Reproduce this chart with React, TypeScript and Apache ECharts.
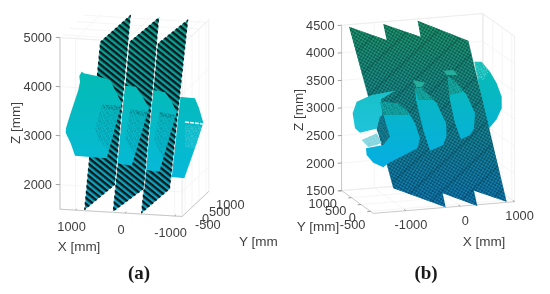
import React, { useEffect, useRef } from "react";
import * as echarts from "echarts";

// Tick labels
const xTicks = [-1000, 0, 1000];
const yTicks = [-500, 0, 500, 1000];
const zTicksA = [2000, 3000, 4000, 5000];
const zTicksB = [1500, 2000, 2500, 3000, 3500, 4000, 4500];

// Panel (a): outlines, [horizontal mm, Z mm] in the view plane
const planeA1 = [[442, 4918], [-190, 5475], [136, 1994], [768, 1470]];
const planeA2 = [[-156, 4918], [-768, 5428], [-456, 1912], [184, 1436]];
const planeA3 = [[-734, 4884], [-1360, 5380], [-986, 1912], [-394, 1402]];
const cloudA1 = [[864, 4217], [816, 4306], [760, 4270], [700, 4258], [510, 4217], [238, 4136], [136, 3932], [0, 3660], [306, 2538], [714, 2572], [952, 2592], [1040, 2844], [1142, 3061], [1136, 3150], [1054, 3422], [952, 3728], [884, 3932], [850, 4102]];
const cloudA2 = [[-68, 4020], [-292, 4000], [-428, 3796], [-558, 3558], [-204, 2388], [88, 2436]];
const cloudA3 = [[-646, 3932], [-884, 3884], [-1020, 3694], [-1122, 3476], [-768, 2266], [-476, 2300]];
const cloudA4 = [[-1156, 3796], [-1496, 3762], [-1578, 3558], [-1666, 3265], [-1530, 2844], [-1278, 2130], [-986, 2164], [-918, 3048]];
const speckA = [
  [[408, 3626], [20, 3605], [272, 2708], [476, 2912], [544, 3150]],
  [[-170, 3524], [-544, 3524], [-272, 2572], [-68, 2912]],
  [[-768, 3469], [-1102, 3422], [-850, 2504], [-660, 2912]],
];
const bandA = [
  [[408, 3639], [20, 3605], [48, 3510], [374, 3558]],
  [[-184, 3544], [-544, 3469], [-524, 3388], [-170, 3469]],
  [[-768, 3490], [-1102, 3422], [-1081, 3333], [-755, 3401]],
];
const glintA = [[-1292, 3279], [-1666, 3238]];
const paleA = [[-1292, 3218], [-1632, 3197], [-1496, 2742], [-1292, 2776]];

// Panel (b)
const planeB = [[-2093, 4482], [-1410, 4240], [-1470, 4531], [-793, 4301], [-847, 4591], [73, 4228], [768, 1306], [175, 1506], [236, 1227], [-393, 1457], [-339, 1203], [-1289, 1548]];
const capLeftB = [[-2027, 2909], [-1954, 3121], [-1682, 3242], [-1258, 3321], [-1512, 3163], [-1488, 2879], [-1561, 2637], [-1894, 2558], [-1984, 2637]];
const stripLeftB = [[-1863, 2425], [-1591, 2546], [-1500, 2365], [-1742, 2292]];
const chunkB = [[-1531, 3121], [-1228, 3091], [-1047, 2970], [-895, 2728], [-805, 2456], [-853, 2274], [-1379, 2002], [-1470, 1929], [-1652, 2014], [-1773, 2153], [-1785, 2274], [-1470, 2335], [-1361, 2486], [-1470, 2879]];
const patchB = [[-1531, 2849], [-1470, 2879], [-1349, 2486], [-1470, 2365], [-1591, 2607]];
const chunkTopB = [[-1531, 3121], [-1228, 3091], [-1047, 2970], [-1016, 2879], [-1470, 2879]];
const midB = [[-895, 3363], [-774, 3363], [-502, 3091], [-333, 2728], [-321, 2516], [-381, 2335], [-623, 2232], [-744, 2607], [-877, 3151]];
const midCapB = [[-938, 3514], [-714, 3466], [-774, 3381], [-865, 3381]];
const midTopB = [[-895, 3363], [-774, 3363], [-545, 3151], [-835, 3151]];
const thirdB = [[-303, 3587], [-139, 3454], [42, 3242], [194, 2909], [175, 2637], [103, 2516], [-61, 2437], [-169, 2728], [-260, 3151]];
const thirdCapB = [[-381, 3684], [-200, 3696], [-121, 3605], [-321, 3605]];
const thirdTopB = [[-303, 3587], [-139, 3454], [-18, 3302], [-260, 3242]];
const endB = [[181, 3847], [315, 3847], [466, 3666], [587, 3454], [678, 3212], [678, 3000], [587, 2800], [436, 2619], [315, 3151]];
const endTopB = [[181, 3847], [315, 3847], [466, 3666], [345, 3514], [224, 3545]];

type P3 = [number, number, number];

const makeTile = (w: number, h: number, draw: (c: CanvasRenderingContext2D) => void) => {
  const cv = document.createElement("canvas");
  cv.width = w;
  cv.height = h;
  draw(cv.getContext("2d")!);
  return cv;
};

const frame = (api: any, f: any) => {
  const out: any[] = [];
  const seg = (a: P3, b: P3, stroke: string, lineWidth = 0.8) => {
    const p = api.coord(f.proj(a));
    const q = api.coord(f.proj(b));
    out.push({ type: "line", shape: { x1: p[0], y1: p[1], x2: q[0], y2: q[1] }, style: { stroke, lineWidth } });
  };
  const [x0, x1] = f.xr;
  const [y0, y1] = f.yr;
  const [z0, z1] = f.zr;
  const g = "#f2f2f2";
  f.zTicks.forEach((z: number) => {
    seg([f.wx, y0, z], [f.wx, y1, z], g);
    seg([x0, f.wy, z], [x1, f.wy, z], g);
  });
  yTicks.forEach((y) => {
    seg([f.wx, y, z0], [f.wx, y, z1], g);
    seg([x0, y, f.wz], [x1, y, f.wz], g);
  });
  xTicks.forEach((x) => {
    seg([x, f.wy, z0], [x, f.wy, z1], g);
    seg([x, y0, f.wz], [x, y1, f.wz], g);
  });
  const e = "#ebebeb";
  seg([f.wx, y0, z0], [f.wx, y0, z1], e);
  seg([f.wx, y1, z0], [f.wx, y1, z1], e);
  seg([x0, f.wy, z0], [x0, f.wy, z1], e);
  seg([x1, f.wy, z0], [x1, f.wy, z1], e);
  seg([f.wx, y0, f.wz], [f.wx, y1, f.wz], e);
  seg([x0, f.wy, f.wz], [x1, f.wy, f.wz], e);
  seg([f.wx, y0, f.wz === z0 ? z1 : z0], [f.wx, y1, f.wz === z0 ? z1 : z0], e);
  seg([x0, f.wy, f.wz === z0 ? z1 : z0], [x1, f.wy, f.wz === z0 ? z1 : z0], e);
  const ax = "#bcbcbc";
  seg([f.zAxis[0], f.zAxis[1], z0], [f.zAxis[0], f.zAxis[1], f.zTop], ax);
  seg([x0, f.xAxisY, z0], [x1, f.xAxisY, z0], ax);
  seg([f.yAxisX, y0, z0], [f.yAxisX, y1, z0], ax);
  const t = "#8a8a8a";
  f.zTicks.forEach((z: number) => seg([f.zAxis[0], f.zAxis[1], z], [f.zAxis[0] + f.zTick, f.zAxis[1], z], t));
  xTicks.forEach((x) => seg([x, f.xAxisY, z0], [x, f.xAxisY + 90, z0], t));
  yTicks.forEach((y) => seg([f.yAxisX, y, z0], [f.yAxisX + f.yTick, y, z0], t));
  const label = (p: P3, text: string, d: number[], align: string) => {
    const c = api.coord(f.proj(p));
    out.push({
      type: "text",
      x: c[0] + d[0],
      y: c[1] + d[1],
      z2: 50,
      style: { text, fill: "#3f3f3f", font: '12.8px "Liberation Sans"', textAlign: align, textVerticalAlign: "middle" },
    });
  };
  f.zTicks.forEach((z: number) => label([f.zAxis[0], f.zAxis[1], z], String(z), f.zOff, "right"));
  xTicks.forEach((x) => label([x, f.xAxisY, z0], String(x), f.xOff, "center"));
  yTicks.forEach((y) => label([f.yAxisX, y, z0], String(y), f.yOff, f.yAlign));
  return out;
};

export default function App() {
  const ref = useRef<HTMLDivElement>(null);
  useEffect(() => {
    const chart = echarts.init(ref.current!, undefined, { renderer: "svg" });

    const stripes = {
      image: makeTile(20, 20, (c) => {
        c.fillStyle = "#07191c";
        c.fillRect(0, 0, 20, 10);
      }),
      repeat: "repeat",
      rotation: 0.68,
      scaleX: 0.235,
      scaleY: 0.235,
    };
    const hatch = {
      image: makeTile(8, 8, (c) => {
        c.strokeStyle = "rgba(5,20,25,0.62)";
        c.lineWidth = 1.5;
        c.beginPath();
        c.moveTo(0, 0); c.lineTo(8, 8);
        c.moveTo(8, 0); c.lineTo(0, 8);
        c.stroke();
      }),
      repeat: "repeat",
      rotation: -0.25,
      scaleX: 0.5,
      scaleY: 0.5,
    };
    const broad = {
      image: makeTile(20, 20, (c) => {
        c.fillStyle = "rgba(0,20,25,0.14)";
        c.fillRect(0, 0, 20, 2);
      }),
      repeat: "repeat",
      rotation: -0.75,
      scaleX: 1,
      scaleY: 1,
    };
    const dots = (color: string) => ({
      image: makeTile(14, 14, (c) => {
        c.fillStyle = color;
        [[1, 1], [6, 0], [11, 2], [3, 5], [8, 4], [13, 6], [0, 8], [5, 9], [10, 8], [2, 12], [7, 12], [12, 11]].forEach(([x, y]) => c.fillRect(x, y, 2, 2));
      }),
      repeat: "repeat",
      scaleX: 0.55,
      scaleY: 0.55,
    });
    const darkDots = dots("rgba(5,40,55,0.6)");
    const paleDots = dots("rgba(255,255,255,0.6)");
    const tealDots = dots("rgba(0,80,80,0.7)");

    const shade = (api: any, zTop: number, zBottom: number, top: string, bottom: string) => {
      const a = api.coord([0, zTop]);
      const b = api.coord([0, zBottom]);
      return { type: "linear", global: true, x: 0, y: a[1], x2: 0, y2: b[1], colorStops: [{ offset: 0, color: top }, { offset: 1, color: bottom }] };
    };
    const poly = (api: any, pts: number[][], fill: any, extra: any = {}) => ({
      type: "polygon",
      shape: { points: pts.map((p) => api.coord(p)) },
      style: { fill, ...extra },
    });

    const projA = ([X, Y, Z]: P3) => [-270 + X * 1.01 - Y * 0.286, 110 + Z + X * 0.06 + Y * 0.27];
    const projB = ([X, Y, Z]: P3) => [-298 + X * 0.986 - Y * 0.345, -115 + Z + X * 0.0815 + Y * 0.248];

    const frameA = {
      proj: projA, xr: [-1154, 1315], yr: [-700, 1200], zr: [1500, 5000], zTop: 5000, zTicks: zTicksA,
      wx: -1154, wy: -700, wz: 5000, zAxis: [1315, -700], xAxisY: -700, yAxisX: -1154, zTick: 85, yTick: 0,
      zOff: [-8, 0], xOff: [-4, 16], yOff: [10, 11], yAlign: "left",
    };
    const frameB = {
      proj: projB, xr: [-1600, 1000], yr: [-650, 1020], zr: [1500, 4500], zTop: 4500, zTicks: zTicksB,
      wx: 1000, wy: 1020, wz: 1500, zAxis: [-1600, 1020], xAxisY: -650, yAxisX: -1600, zTick: -70, yTick: -60,
      zOff: [-7, 0], xOff: [5, 14], yOff: [-5, 13], yAlign: "right",
    };

    const renderA = (_: any, api: any) => {
      const cyan = shade(api, 4300, 2100, "#03bbb4", "#07b9da");
      const base = shade(api, 5400, 1500, "#0d9e8b", "#12a2c2");
      const plane = (pts: number[][]) => [
        poly(api, pts, base, { stroke: "#fff", lineWidth: 0.9 }),
        poly(api, pts, stripes),
      ];
      const section = (pts: number[][], i: number) => [
        poly(api, pts, cyan),
        poly(api, speckA[i], darkDots, { opacity: 0.55 }),
        poly(api, bandA[i], darkDots),
      ];
      const g = api.coord(glintA[0]);
      const h = api.coord(glintA[1]);
      return {
        type: "group",
        children: [
          ...frame(api, frameA).filter((e) => e.type === "line"),
          poly(api, cloudA4, cyan),
          poly(api, paleA, paleDots, { opacity: 0.55 }),
          { type: "line", shape: { x1: g[0], y1: g[1], x2: h[0], y2: h[1] }, style: { stroke: "#eafcfc", lineWidth: 1.6, lineDash: [4, 1] } },
          ...plane(planeA3),
          ...section(cloudA3, 2),
          ...plane(planeA2),
          ...section(cloudA2, 1),
          ...plane(planeA1),
          ...section(cloudA1, 0),
          ...frame(api, frameA).filter((e) => e.type === "text"),
        ],
      };
    };

    const renderB = (_: any, api: any) => {
      const cyan = shade(api, 3800, 1950, "#08bcb4", "#05aee2");
      const pale = shade(api, 3400, 2500, "#17c0c6", "#20c4dc");
      const base = shade(api, 4500, 1300, "#1ea477", "#0f86c6");
      return {
        type: "group",
        children: [
          ...frame(api, frameB).filter((e) => e.type === "line"),
          poly(api, endB, cyan),
          poly(api, endTopB, paleDots, { opacity: 0.75 }),
          poly(api, planeB, base),
          poly(api, planeB, hatch),
          poly(api, planeB, broad),
          poly(api, capLeftB, pale),
          poly(api, stripLeftB, "#8fdfe8"),
          poly(api, stripLeftB, darkDots, { opacity: 0.3 }),
          poly(api, chunkB, cyan),
          poly(api, patchB, "#157f93"),
          poly(api, patchB, darkDots),
          poly(api, chunkTopB, "#18a29c", { opacity: 0.8 }),
          poly(api, chunkTopB, tealDots),
          poly(api, midB, cyan),
          poly(api, midCapB, "#25ae9c"),
          poly(api, midTopB, "#1ba69c", { opacity: 0.8 }),
          poly(api, midTopB, tealDots),
          poly(api, thirdB, cyan),
          poly(api, thirdCapB, "#25ae9c"),
          poly(api, thirdTopB, "#1ba69c", { opacity: 0.8 }),
          poly(api, thirdTopB, tealDots),
          ...frame(api, frameB).filter((e) => e.type === "text"),
        ],
      };
    };

    const hidden = { type: "value", show: false, scale: true };
    const title = (text: string, x: number, y: number, align = "center", rotation = 0) => ({
      type: "text",
      x,
      y,
      rotation,
      z: 20,
      style: { text, fill: "#3f3f3f", font: '13.5px "Liberation Sans"', textAlign: align, textVerticalAlign: "middle" },
    });
    const caption = (text: string, x: number) => ({
      type: "text",
      x,
      y: 272,
      z: 20,
      style: { text, fill: "#1a1a1a", font: 'bold 19px "Liberation Serif"', textAlign: "center", textVerticalAlign: "middle" },
    });

    chart.setOption({
      animation: false,
      grid: [
        { left: 0, top: 0, width: 275, height: 294 },
        { left: 275, top: 0, width: 275, height: 294 },
      ],
      xAxis: [
        { ...hidden, gridIndex: 0, min: -3128, max: 2482, inverse: true },
        { ...hidden, gridIndex: 1, min: -3436, max: 1555 },
      ],
      yAxis: [
        { ...hidden, gridIndex: 0, min: -230, max: 5768 },
        { ...hidden, gridIndex: 1, min: -370, max: 4966 },
      ],
      series: [
        { type: "custom", coordinateSystem: "cartesian2d", xAxisIndex: 0, yAxisIndex: 0, clip: false, silent: true, data: [[0, 3000]], renderItem: renderA },
        { type: "custom", coordinateSystem: "cartesian2d", xAxisIndex: 1, yAxisIndex: 1, clip: false, silent: true, data: [[0, 3000]], renderItem: renderB },
      ],
      graphic: [
        title("Z [mm]", 15, 123, "center", Math.PI / 2),
        title("X [mm]", 79, 246),
        title("Y [mm", 239, 241, "left"),
        caption("(a)", 139),
        title("Z [mm]", 298, 110, "center", Math.PI / 2),
        title("Y [mm]", 318, 226),
        title("X [mm]", 484, 241),
        caption("(b)", 426),
      ],
    });
    return () => chart.dispose();
  }, []);
  return <div ref={ref} style={{ position: "fixed", left: 0, top: 0, width: 550, height: 294, filter: "blur(0.35px)" }} />;
}
